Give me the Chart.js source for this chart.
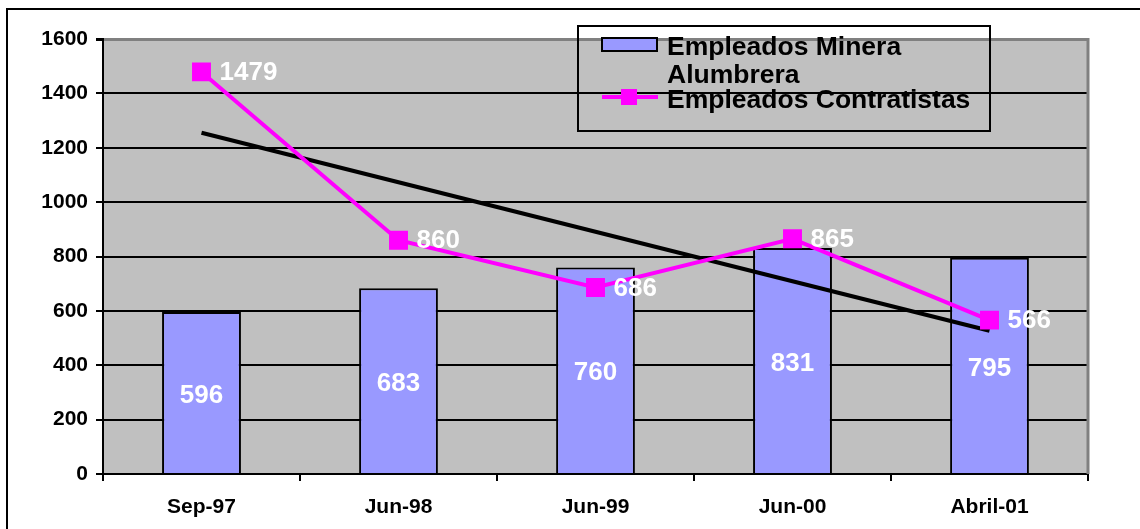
<!DOCTYPE html>
<html>
<head>
<meta charset="utf-8">
<title>Empleados Minera Alumbrera / Contratistas</title>
<script src="https://cdn.jsdelivr.net/npm/chart.js@4.4.1/dist/chart.umd.min.js"></script>
<style>
    html, body { margin: 0; padding: 0; background: #fff; }
    #wrap { width: 1140px; height: 529px; position: relative; }
</style>
</head>
<body>
<div id="wrap"><canvas id="chart" width="1140" height="529"></canvas></div>
<script>
// Data
const categories = ['Sep-97', 'Jun-98', 'Jun-99', 'Jun-00', 'Abril-01'];
const mineraValues = [596, 683, 760, 831, 795];
const contratistasValues = [1479, 860, 686, 865, 566];
const trendValues = [1255, null, null, null, 527]; // trend line end points
const legendMinera = ['Empleados Minera', 'Alumbrera'];
const legendContratistas = 'Empleados Contratistas';

const barColor = '#9999FF';
const lineColor = '#FF00FF';
const plotBg = '#C0C0C0';

Chart.defaults.font.family = "'Liberation Sans', Arial, sans-serif";
Chart.defaults.color = '#000';

// gray plot background, outer frame, right edge
const framePlugin = {
    id: 'frame',
    beforeDraw(chart) {
        const { ctx, chartArea: a } = chart;
        ctx.save();
        ctx.fillStyle = '#fff';
        ctx.fillRect(0, 0, chart.width, chart.height);
        ctx.fillStyle = plotBg;
        ctx.fillRect(a.left, a.top, a.right - a.left, a.bottom - a.top);
        ctx.strokeStyle = '#000';
        ctx.lineWidth = 2;
        ctx.strokeRect(7, 9, chart.width + 20, chart.height + 20);
        ctx.restore();
    },
    beforeDatasetsDraw(chart) {
        const { ctx, chartArea: a } = chart;
        ctx.save();
        ctx.strokeStyle = '#808080';
        ctx.lineWidth = 3;
        ctx.beginPath();
        ctx.moveTo(a.right, a.top - 1);
        ctx.lineTo(a.right, a.bottom);
        ctx.stroke();
        ctx.restore();
    }
};

// value labels in white
const labelPlugin = {
    id: 'valueLabels',
    afterDatasetsDraw(chart) {
        const ctx = chart.ctx;
        ctx.save();
        ctx.fillStyle = '#fff';
        ctx.font = "bold 26px 'Liberation Sans', Arial, sans-serif";
        ctx.textBaseline = 'middle';

        const bars = chart.getDatasetMeta(0).data;
        ctx.textAlign = 'center';
        bars.forEach((bar, i) => {
            const y = (bar.y + bar.base) / 2;
            ctx.fillText(String(mineraValues[i]), bar.x, y + 3);
        });

        const pts = chart.getDatasetMeta(1).data;
        ctx.textAlign = 'left';
        pts.forEach((pt, i) => {
            ctx.fillText(String(contratistasValues[i]), pt.x + 18, pt.y + 1);
        });
        ctx.restore();
    }
};

// legend box (transparent, black border) drawn like the original
const legendPlugin = {
    id: 'customLegend',
    afterDraw(chart) {
        const ctx = chart.ctx;
        ctx.save();
        ctx.strokeStyle = '#000';
        ctx.lineWidth = 2;
        ctx.strokeRect(578, 26, 412, 105);

        // bar swatch
        ctx.fillStyle = barColor;
        ctx.fillRect(602, 38, 55, 13);
        ctx.strokeRect(602, 38, 55, 13);

        // line swatch
        ctx.strokeStyle = lineColor;
        ctx.lineWidth = 4;
        ctx.beginPath();
        ctx.moveTo(602, 97);
        ctx.lineTo(658, 97);
        ctx.stroke();
        ctx.fillStyle = lineColor;
        ctx.fillRect(621, 89, 16, 16);

        ctx.fillStyle = '#000';
        ctx.font = "bold 26.5px 'Liberation Sans', Arial, sans-serif";
        ctx.textBaseline = 'alphabetic';
        ctx.textAlign = 'left';
        ctx.fillText(legendMinera[0], 667, 55);
        ctx.fillText(legendMinera[1], 667, 83);
        ctx.fillText(legendContratistas, 667, 108);
        ctx.restore();
    }
};

const ctx = document.getElementById('chart').getContext('2d');
new Chart(ctx, {
    data: {
        labels: categories,
        datasets: [
            {
                type: 'bar',
                label: legendMinera.join(' '),
                data: mineraValues,
                backgroundColor: barColor,
                borderColor: '#000',
                borderWidth: 2,
                borderSkipped: 'start',
                barPercentage: 0.4,
                categoryPercentage: 1,
                order: 3
            },
            {
                type: 'line',
                label: legendContratistas,
                data: contratistasValues,
                borderColor: lineColor,
                backgroundColor: lineColor,
                borderWidth: 4,
                pointStyle: 'rect',
                pointRadius: 13.4,
                pointBorderWidth: 0,
                pointBackgroundColor: lineColor,
                tension: 0,
                order: 1
            },
            {
                type: 'line',
                label: 'Tendencia',
                data: trendValues,
                spanGaps: true,
                borderColor: '#000',
                borderWidth: 4,
                pointRadius: 0,
                tension: 0,
                order: 2
            }
        ]
    },
    options: {
        responsive: false,
        animation: false,
        layout: { padding: { top: 39, right: 52, left: 0, bottom: 0 } },
        plugins: {
            legend: { display: false },
            tooltip: { enabled: false }
        },
        scales: {
            x: {
                offset: true,
                grid: {
                    offset: true,
                    drawOnChartArea: false,
                    drawTicks: true,
                    tickLength: 7,
                    color: '#000',
                    lineWidth: 2
                },
                border: { display: true, color: '#000', width: 2 },
                ticks: {
                    font: { size: 21, weight: 'bold' },
                    color: '#000',
                    padding: 14,
                    maxRotation: 0
                },
                afterFit(scale) { scale.height = 55; }
            },
            y: {
                min: 0,
                max: 1600,
                ticks: {
                    stepSize: 200,
                    font: { size: 21, weight: 'bold' },
                    color: '#000',
                    padding: 8,
                    callback: (v) => String(v)
                },
                grid: {
                    color: (c) => (c.tick && c.tick.value === 1600 ? '#808080' : '#000'),
                    lineWidth: (c) => (c.tick && c.tick.value === 1600 ? 3 : 2),
                    tickColor: '#000',
                    tickLength: 7
                },
                border: { display: true, color: '#000', width: 2 },
                afterFit(scale) { scale.width = 103; }
            }
        }
    },
    plugins: [framePlugin, labelPlugin, legendPlugin]
});
</script>
</body>
</html>
